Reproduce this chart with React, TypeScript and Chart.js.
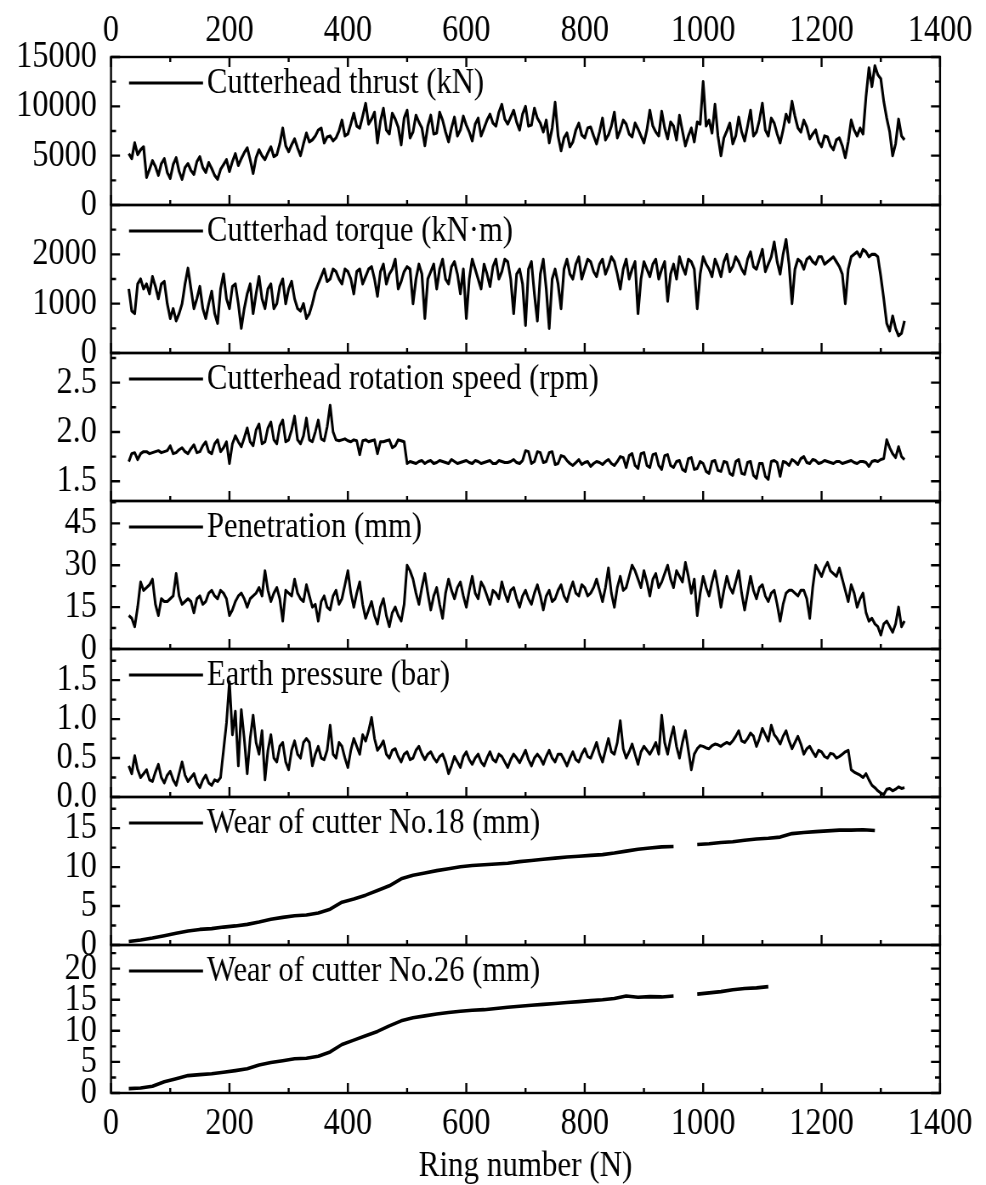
import React, { useEffect, useRef } from 'react';
import { Chart, registerables } from 'chart.js';

Chart.register(...registerables);

// ---------- data (one value every 5 rings, from ring 30 to 1340) ----------
const RING_START = 30;
const RING_STEP = 5;
const WEAR_START = 30;
const WEAR_STEP = 20;

const thrust = [
  5200, 4700, 6300, 5100, 5600, 5900, 2800, 3600, 4500, 3900, 3000, 4200, 4700, 3300, 2700, 4100, 4800, 3400, 2600, 3800,
  4200, 3500, 3100, 4400, 4900, 3800, 3300, 4300, 3700, 3000, 2600, 3600, 4100, 4600, 3400, 4400, 5200, 4000, 4700, 5300,
  5800, 4600, 3200, 4800, 5600, 5000, 4600, 5300, 5900, 4900, 5100, 6200, 7800, 6000, 5400, 6100, 6700, 5800, 5000, 6200,
  7300, 6400, 6600, 7000, 7600, 7800, 6300, 6900, 7000, 6500, 6800, 7500, 8600, 7000, 7200, 8200, 9300, 8000, 7800, 9000,
  10300, 8200, 8700, 9400, 6300, 8500, 9800, 7600, 7200, 9300, 8700, 7900, 6100, 8800, 9600, 6800, 7400, 9100, 8400, 7800,
  6000, 8000, 9100, 7200, 7300, 9400, 8600, 7400, 6400, 7800, 8900, 7000, 7600, 9000, 8100, 7400, 6500, 8200, 8800, 7000,
  7800, 8600, 9200, 8300, 8000, 9400, 10200, 8700, 8200, 8900, 9600, 8400, 7600, 9200, 10000, 8000, 8100, 9800, 8800, 8300,
  7400, 8600, 6300, 7800, 10400, 7000, 5500, 6800, 7300, 5900, 6400, 7600, 8300, 7100, 6800, 7800, 7900, 7000, 6200, 7400,
  8800, 6600, 7100, 8000, 9400, 6800, 7600, 8600, 8200, 7200, 6900, 8300, 7700, 7000, 6300, 7600, 9600, 8000, 7400, 7000,
  9500, 7800, 6700, 8400, 8000, 6600, 9100, 7500, 6000, 7000, 7800, 6400, 8400, 8200, 12500, 8000, 8600, 7300, 10200, 7000,
  5000, 6800, 7500, 8300, 6200, 7000, 8900, 7400, 6500, 8000, 9600, 7000, 7400, 8600, 10300, 7600, 7000, 8800, 8300, 7200,
  6300, 7600, 9200, 8400, 10500, 9000, 7800, 7400, 8600, 7900, 6700, 7200, 7600, 6400, 5900, 7000, 6900, 6000, 5600, 6600,
  6800, 6000, 4800, 6400, 8600, 7600, 7000, 7800, 7200, 11000, 13900, 12000, 14100, 13200, 12800, 10500, 8800, 7400, 5000, 6200,
  8700, 7000, 6600,
];

const torque = [
  1300, 850, 800, 1400, 1500, 1300, 1400, 1200, 1550, 1350, 1100, 1400, 1450, 1000, 700, 900, 650, 800, 1000, 1400,
  1720, 1300, 900, 1100, 1350, 900, 700, 1000, 1250, 800, 600, 1300, 1600, 1100, 900, 1350, 1400, 1000, 500, 900,
  1200, 1400, 800, 1200, 1550, 1100, 900, 1300, 1400, 900, 1000, 1350, 1500, 1000, 1300, 1450, 1100, 900, 850, 1000,
  700, 800, 1000, 1250, 1400, 1550, 1700, 1450, 1500, 1700, 1650, 1500, 1400, 1700, 1650, 1500, 1200, 1650, 1700, 1400,
  1550, 1700, 1750, 1500, 1150, 1650, 1800, 1400, 1600, 1700, 1900, 1300, 1450, 1650, 1750, 1700, 1000, 1500, 1800, 1600,
  700, 1500, 1650, 1800, 1300, 1700, 1900, 1500, 1400, 1750, 1850, 1600, 1200, 1700, 700, 1500, 1900, 1700, 1500, 1300,
  1800, 1600, 1350, 1750, 1900, 1500, 1650, 1900, 1850, 1500, 800, 1600, 1700, 1400, 560, 1700, 1850, 1200, 650, 1600,
  1900, 1300, 500, 1500, 1700, 1400, 900, 1700, 1900, 1600, 1500, 1800, 1950, 1500, 1700, 1900, 1850, 1650, 1550, 1800,
  1900, 1600, 1750, 1950, 1850, 1600, 1300, 1700, 1900, 1500, 1700, 1850, 800, 1500, 1850, 1700, 1550, 1800, 1900, 1500,
  1700, 1850, 1050, 1600, 1800, 1500, 1950, 1750, 1600, 1900, 1850, 1700, 900, 1600, 1950, 1800, 1700, 1550, 1900, 1750,
  1550, 1850, 2000, 1650, 1750, 1950, 1850, 1700, 1600, 1900, 2050, 1750, 1700, 1900, 2100, 1650, 1800, 1950, 2250, 1850,
  1600, 2000, 2300, 1800, 1000, 1700, 1900, 1850, 1700, 1900, 1950, 1850, 1800, 1950, 1950, 1800, 1850, 1900, 1950, 1850,
  1750, 1600, 1000, 1700, 1950, 2000, 2050, 1950, 2100, 2050, 1950, 2000, 2000, 1950, 1550, 1100, 600, 450, 750, 500,
  350, 400, 650,
];

const speed = [
  1.70, 1.78, 1.79, 1.72, 1.78, 1.80, 1.80, 1.78, 1.79, 1.80, 1.81, 1.79, 1.80, 1.81, 1.86, 1.78, 1.79, 1.82, 1.84, 1.80,
  1.78, 1.83, 1.87, 1.79, 1.80, 1.86, 1.90, 1.80, 1.78, 1.88, 1.92, 1.80, 1.84, 1.90, 1.68, 1.88, 1.96, 1.90, 1.85, 1.94,
  2.04, 1.90, 1.86, 2.02, 2.08, 1.88, 1.90, 2.04, 2.10, 1.92, 1.88, 2.06, 2.12, 1.90, 1.92, 2.02, 2.16, 1.92, 1.88, 1.96,
  2.14, 1.92, 1.90, 2.00, 2.12, 1.93, 1.91, 2.05, 2.27, 2.00, 1.92, 1.91, 1.92, 1.93, 1.91, 1.90, 1.92, 1.91, 1.77, 1.91,
  1.92, 1.90, 1.91, 1.92, 1.78, 1.90, 1.90, 1.91, 1.92, 1.84, 1.86, 1.92, 1.91, 1.90, 1.68, 1.70, 1.69, 1.68, 1.70, 1.71,
  1.68, 1.70, 1.71, 1.68, 1.69, 1.71, 1.70, 1.69, 1.68, 1.72, 1.70, 1.68, 1.69, 1.70, 1.71, 1.69, 1.68, 1.71, 1.70, 1.68,
  1.69, 1.70, 1.71, 1.68, 1.68, 1.71, 1.70, 1.69, 1.69, 1.70, 1.72, 1.69, 1.68, 1.71, 1.81, 1.80, 1.68, 1.70, 1.80, 1.79,
  1.69, 1.70, 1.79, 1.80, 1.67, 1.68, 1.76, 1.75, 1.71, 1.68, 1.66, 1.69, 1.72, 1.67, 1.69, 1.70, 1.65, 1.68, 1.70, 1.69,
  1.67, 1.70, 1.72, 1.68, 1.66, 1.70, 1.75, 1.74, 1.64, 1.76, 1.78, 1.66, 1.63, 1.78, 1.79, 1.66, 1.64, 1.77, 1.78, 1.66,
  1.62, 1.76, 1.77, 1.66, 1.64, 1.70, 1.71, 1.62, 1.60, 1.73, 1.74, 1.62, 1.63, 1.70, 1.68, 1.60, 1.58, 1.70, 1.71, 1.61,
  1.60, 1.70, 1.69, 1.58, 1.56, 1.70, 1.72, 1.58, 1.57, 1.69, 1.70, 1.56, 1.53, 1.68, 1.68, 1.55, 1.52, 1.70, 1.71, 1.69,
  1.55, 1.70, 1.69, 1.66, 1.72, 1.70, 1.67, 1.73, 1.75, 1.69, 1.68, 1.72, 1.71, 1.68, 1.69, 1.71, 1.70, 1.69, 1.68, 1.70,
  1.70, 1.68, 1.69, 1.70, 1.71, 1.69, 1.68, 1.70, 1.70, 1.69, 1.65, 1.70, 1.71, 1.70, 1.72, 1.73, 1.92, 1.84, 1.78, 1.74,
  1.85, 1.75, 1.72,
];

const penetration = [
  12, 11, 8, 15, 24, 21, 22, 23, 25, 16, 12, 18, 17, 17, 18, 19, 27, 19, 16, 17,
  18, 17, 13, 18, 19, 16, 17, 20, 21, 19, 18, 21, 20, 18, 12, 14, 17, 19, 20, 18,
  15, 18, 19, 20, 22, 19, 28, 21, 17, 20, 22, 18, 10, 21, 20, 19, 25, 20, 18, 17,
  23, 19, 15, 16, 10, 17, 19, 15, 14, 19, 21, 16, 18, 23, 28, 20, 15, 20, 24, 16,
  11, 14, 17, 12, 9, 15, 18, 12, 8, 13, 15, 12, 10, 16, 30, 28, 25, 20, 16, 22,
  27, 20, 14, 19, 22, 16, 11, 20, 25, 21, 18, 22, 24, 19, 15, 21, 26, 20, 18, 24,
  22, 19, 16, 21, 20, 18, 24, 20, 17, 21, 22, 18, 15, 19, 21, 18, 16, 20, 23, 19,
  14, 19, 21, 17, 18, 21, 23, 19, 17, 21, 24, 20, 19, 23, 22, 19, 20, 22, 25, 21,
  17, 22, 29, 20, 15, 22, 26, 21, 22, 26, 30, 28, 25, 22, 28, 24, 19, 25, 27, 22,
  24, 27, 30, 25, 22, 28, 26, 24, 31, 26, 20, 25, 12, 20, 26, 22, 19, 24, 28, 22,
  15, 21, 26, 22, 20, 24, 28, 20, 14, 20, 26, 21, 18, 22, 23, 19, 17, 20, 21, 16,
  10, 16, 20, 21, 21, 20, 19, 21, 21, 18, 11, 22, 30, 28, 26, 29, 31, 28, 27, 26,
  29, 25, 21, 17, 23, 20, 15, 18, 20, 13, 10, 11, 9, 8, 5, 9, 10, 8, 6, 9,
  15, 8, 10,
];

const earthPressure = [
  0.40, 0.30, 0.53, 0.35, 0.25, 0.30, 0.35, 0.22, 0.20, 0.32, 0.42, 0.25, 0.18, 0.28, 0.33, 0.22, 0.15, 0.30, 0.45, 0.28,
  0.20, 0.25, 0.30, 0.18, 0.12, 0.22, 0.28, 0.18, 0.15, 0.22, 0.20, 0.25, 0.60, 0.95, 1.48, 0.80, 1.10, 0.40, 1.12, 0.75,
  0.30, 0.75, 1.05, 0.70, 0.55, 0.85, 0.22, 0.60, 0.80, 0.50, 0.45, 0.65, 0.70, 0.45, 0.35, 0.60, 0.72, 0.55, 0.50, 0.70,
  0.75, 0.70, 0.40, 0.55, 0.65, 0.50, 0.48, 0.60, 0.92, 0.55, 0.50, 0.70, 0.65, 0.50, 0.38, 0.60, 0.75, 0.65, 0.55, 0.80,
  0.72, 0.85, 1.02, 0.75, 0.60, 0.65, 0.72, 0.55, 0.50, 0.60, 0.62, 0.52, 0.45, 0.55, 0.58, 0.48, 0.50, 0.60, 0.65, 0.55,
  0.48, 0.55, 0.58, 0.50, 0.45, 0.52, 0.55, 0.45, 0.30, 0.40, 0.52, 0.45, 0.38, 0.52, 0.58, 0.48, 0.42, 0.50, 0.55, 0.45,
  0.40, 0.50, 0.58, 0.48, 0.45, 0.55, 0.52, 0.45, 0.38, 0.48, 0.55, 0.50, 0.44, 0.52, 0.60, 0.48, 0.40, 0.50, 0.55, 0.50,
  0.42, 0.52, 0.60, 0.50, 0.45, 0.55, 0.55, 0.48, 0.40, 0.50, 0.58, 0.48, 0.45, 0.55, 0.62, 0.52, 0.50, 0.60, 0.70, 0.55,
  0.45, 0.60, 0.75, 0.58, 0.55, 0.70, 0.98, 0.62, 0.50, 0.58, 0.68, 0.55, 0.42, 0.58, 0.65, 0.60, 0.55, 0.62, 0.70, 0.55,
  1.05, 0.70, 0.55, 0.75, 0.90, 0.65, 0.50, 0.70, 0.85, 0.60, 0.35, 0.55, 0.62, 0.66, 0.65, 0.63, 0.62, 0.66, 0.68, 0.67,
  0.65, 0.68, 0.70, 0.68, 0.72, 0.78, 0.85, 0.72, 0.70, 0.75, 0.82, 0.78, 0.65, 0.75, 0.88, 0.80, 0.72, 0.92, 0.80, 0.75,
  0.68, 0.78, 0.85, 0.72, 0.62, 0.70, 0.78, 0.68, 0.55, 0.62, 0.65, 0.58, 0.52, 0.60, 0.58, 0.52, 0.50, 0.56, 0.55, 0.50,
  0.52, 0.55, 0.58, 0.60, 0.35, 0.32, 0.30, 0.28, 0.25, 0.30, 0.22, 0.15, 0.12, 0.08, 0.05, 0.03, 0.10, 0.11, 0.08, 0.10,
  0.13, 0.11, 0.12,
];

// wear series: every 20 rings from ring 30, null = missing records (gap)
const wear18 = [
  0.45, 0.65, 0.9, 1.2, 1.5, 1.8, 2.0, 2.1, 2.3, 2.45,
  2.65, 2.95, 3.3, 3.55, 3.75, 3.85, 4.1, 4.6, 5.5, 5.9,
  6.4, 7.0, 7.6, 8.5, 8.95, 9.25, 9.55, 9.8, 10.05, 10.2,
  10.3, 10.4, 10.5, 10.7, 10.85, 11.0, 11.15, 11.3, 11.4, 11.5,
  11.6, 11.8, 12.05, 12.3, 12.45, 12.6, 12.65,
  null,
  12.9, 13.0, 13.15, 13.25, 13.45, 13.6, 13.7, 13.85, 14.3, 14.45,
  14.55, 14.65, 14.75, 14.75, 14.8, 14.7,
];

const wear26 = [
  0.7, 0.8, 1.1, 1.8, 2.3, 2.8, 2.95, 3.1, 3.35, 3.6,
  3.9, 4.5, 4.9, 5.2, 5.5, 5.6, 5.9, 6.6, 7.8, 8.5,
  9.2, 9.9, 10.8, 11.6, 12.1, 12.4, 12.7, 12.95, 13.15, 13.3,
  13.4, 13.6, 13.8, 13.95, 14.1, 14.25, 14.4, 14.55, 14.7, 14.85,
  15.0, 15.2, 15.6, 15.4, 15.5, 15.45, 15.6,
  null,
  15.9, 16.1, 16.3, 16.6, 16.8, 16.9, 17.1,
];

// ---------- ticks ----------
const xTicks = [0, 200, 400, 600, 800, 1000, 1200, 1400];
const xTickLabels = ['0', '200', '400', '600', '800', '1000', '1200', '1400'];
const thrustTicks = [0, 5000, 10000, 15000];
const thrustTickLabels = ['0', '5000', '10000', '15000'];
const torqueTicks = [0, 1000, 2000];
const torqueTickLabels = ['0', '1000', '2000'];
const speedTicks = [1.5, 2.0, 2.5];
const speedTickLabels = ['1.5', '2.0', '2.5'];
const penetrationTicks = [0, 15, 30, 45];
const penetrationTickLabels = ['0', '15', '30', '45'];
const earthTicks = [0, 0.5, 1.0, 1.5];
const earthTickLabels = ['0.0', '0.5', '1.0', '1.5'];
const wear18Ticks = [0, 5, 10, 15];
const wear18TickLabels = ['0', '5', '10', '15'];
const wear26Ticks = [0, 5, 10, 15, 20];
const wear26TickLabels = ['0', '5', '10', '15', '20'];

// ---------- panels (top to bottom) ----------
type Panel = {
  id: string;
  label: string;
  values: (number | null)[];
  start: number;
  step: number;
  min: number;
  max: number;
  ticks: number[];
  tickLabels: string[];
  width: number;
};

const panels: Panel[] = [
  { id: 'yThrust', label: 'Cutterhead thrust (kN)', values: thrust, start: RING_START, step: RING_STEP, min: 0, max: 15000, ticks: thrustTicks, tickLabels: thrustTickLabels, width: 3.1 },
  { id: 'yTorque', label: 'Cutterhad torque (kN\u00B7m)', values: torque, start: RING_START, step: RING_STEP, min: 0, max: 3000, ticks: torqueTicks, tickLabels: torqueTickLabels, width: 3.1 },
  { id: 'ySpeed', label: 'Cutterhead rotation speed (rpm)', values: speed, start: RING_START, step: RING_STEP, min: 1.3, max: 2.8, ticks: speedTicks, tickLabels: speedTickLabels, width: 3.0 },
  { id: 'yPen', label: 'Penetration (mm)', values: penetration, start: RING_START, step: RING_STEP, min: 0, max: 53, ticks: penetrationTicks, tickLabels: penetrationTickLabels, width: 3.0 },
  { id: 'yEarth', label: 'Earth pressure (bar)', values: earthPressure, start: RING_START, step: RING_STEP, min: 0, max: 1.9, ticks: earthTicks, tickLabels: earthTickLabels, width: 3.0 },
  { id: 'yW18', label: 'Wear of cutter No.18 (mm)', values: wear18, start: WEAR_START, step: WEAR_STEP, min: 0, max: 19, ticks: wear18Ticks, tickLabels: wear18TickLabels, width: 3.6 },
  { id: 'yW26', label: 'Wear of cutter No.26 (mm)', values: wear26, start: WEAR_START, step: WEAR_STEP, min: 0, max: 23.8, ticks: wear26Ticks, tickLabels: wear26TickLabels, width: 3.6 },
];

const FONT = "'Liberation Serif', 'Times New Roman', Times, serif";
const TICK_SIZE = 38;
const LEGEND_SIZE = 36;
const TITLE_SIZE = 36.5;
// the figure is drawn on a wider canvas and displayed squeezed horizontally
const SQUEEZE = 0.85;
const W = 986;
const H = 1185;
const CW = Math.round(W / SQUEEZE);
const sx = (v: number) => v / SQUEEZE;
const AREA_LEFT = sx(111);
const AREA_RIGHT = sx(940);
const AREA_TOP = 57;
const AREA_BOTTOM = 1093;

const framePlugin = {
  id: 'panelFrames',
  afterDatasetsDraw(chart: any) {
    const { ctx, chartArea } = chart;
    const xs = chart.scales.x;
    const L = chartArea.left;
    const R = chartArea.right;
    ctx.save();
    ctx.strokeStyle = '#000';
    ctx.fillStyle = '#000';
    ctx.lineCap = 'butt';
    panels.forEach((p, idx) => {
      const s = chart.scales[p.id];
      const T = s.top;
      const B = s.bottom;
      ctx.lineWidth = 2.4;
      ctx.strokeRect(L, T, R - L, B - T);
      ctx.beginPath();
      const step = p.ticks[1] - p.ticks[0];
      p.ticks.forEach((v) => {
        const y = s.getPixelForValue(v);
        ctx.moveTo(L, y); ctx.lineTo(L + sx(9), y);
        ctx.moveTo(R, y); ctx.lineTo(R - sx(9), y);
      });
      for (let v = p.ticks[0] - step / 2; v <= p.max + 1e-9; v += step) {
        if (v < p.min - 1e-9) continue;
        const y = s.getPixelForValue(v);
        ctx.moveTo(L, y); ctx.lineTo(L + sx(5), y);
        ctx.moveTo(R, y); ctx.lineTo(R - sx(5), y);
      }
      for (let i = 0; i < xTicks.length; i++) {
        const px = xs.getPixelForValue(xTicks[i]);
        ctx.moveTo(px, B); ctx.lineTo(px, B - 10);
        if (idx === 0) { ctx.moveTo(px, T); ctx.lineTo(px, T + 10); }
        if (i < xTicks.length - 1) {
          const pm = xs.getPixelForValue((xTicks[i] + xTicks[i + 1]) / 2);
          ctx.moveTo(pm, B); ctx.lineTo(pm, B - 5);
          if (idx === 0) { ctx.moveTo(pm, T); ctx.lineTo(pm, T + 5); }
        }
      }
      ctx.stroke();

      // legend entry
      const ly = T + 26;
      ctx.lineWidth = 3.2;
      ctx.beginPath();
      ctx.moveTo(L + sx(18), ly);
      ctx.lineTo(L + sx(92), ly);
      ctx.stroke();
      ctx.font = `${LEGEND_SIZE}px ${FONT}`;
      ctx.textBaseline = 'middle';
      ctx.textAlign = 'left';
      ctx.fillText(p.label, L + sx(96), ly + 1);
    });
    ctx.restore();
  },
};

export default function App() {
  const canvasRef = useRef<HTMLCanvasElement | null>(null);

  useEffect(() => {
    const canvas = canvasRef.current;
    if (!canvas) return;

    const xTickCallback = (_v: any, i: number) => xTickLabels[i];

    const scales: any = {
      x: {
        type: 'linear',
        position: 'bottom',
        min: 0,
        max: 1400,
        grid: { display: false, drawTicks: false },
        border: { display: false },
        afterBuildTicks: (s: any) => { s.ticks = xTicks.map((v) => ({ value: v })); },
        afterFit: (s: any) => { s.height = H - AREA_BOTTOM; },
        ticks: { autoSkip: false, maxRotation: 0, padding: 8, color: '#000', font: { family: FONT, size: TICK_SIZE }, callback: xTickCallback },
        title: { display: true, text: 'Ring number (N)', color: '#000', padding: { top: 0, bottom: -3 }, font: { family: FONT, size: TITLE_SIZE } },
      },
      xTop: {
        type: 'linear',
        position: 'top',
        min: 0,
        max: 1400,
        grid: { display: false, drawTicks: false },
        border: { display: false },
        afterBuildTicks: (s: any) => { s.ticks = xTicks.map((v) => ({ value: v })); },
        afterFit: (s: any) => { s.height = AREA_TOP; },
        ticks: { autoSkip: false, maxRotation: 0, padding: 3, color: '#000', font: { family: FONT, size: TICK_SIZE }, callback: xTickCallback },
      },
    };

    // define from bottom panel to top panel (last defined is stacked on top)
    [...panels].reverse().forEach((p) => {
      scales[p.id] = {
        type: 'linear',
        position: 'left',
        stack: 'panels',
        stackWeight: 1,
        min: p.min,
        max: p.max,
        grid: { display: false, drawTicks: false },
        border: { display: false },
        afterBuildTicks: (s: any) => { s.ticks = p.ticks.map((v) => ({ value: v })); },
        afterFit: (s: any) => { s.width = AREA_LEFT; },
        ticks: {
          autoSkip: false,
          padding: sx(14),
          color: '#000',
          font: { family: FONT, size: TICK_SIZE },
          callback: (_v: any, i: number) => p.tickLabels[i],
        },
      };
    });

    const chart = new Chart(canvas, {
      type: 'line',
      data: {
        datasets: panels.map((p) => ({
          label: p.label,
          data: p.values.map((v, i) => ({ x: p.start + i * p.step, y: v })),
          xAxisID: 'x',
          yAxisID: p.id,
          borderColor: '#000',
          borderWidth: p.width,
          borderJoinStyle: 'round',
          pointRadius: 0,
          tension: 0,
          fill: false,
          spanGaps: false,
        })),
      },
      options: {
        responsive: false,
        animation: false,
        devicePixelRatio: 1,
        layout: { padding: { left: 0, right: CW - AREA_RIGHT, top: 0, bottom: 0 } },
        plugins: { legend: { display: false }, tooltip: { enabled: false } },
        scales,
      },
      plugins: [framePlugin],
    } as any);

    return () => chart.destroy();
  }, []);

  return (
    <div style={{ position: 'absolute', left: 0, top: 0, width: W, height: H, background: '#fff' }}>
      <canvas ref={canvasRef} width={CW} height={H} style={{ width: W, height: H, display: 'block' }} />
    </div>
  );
}
